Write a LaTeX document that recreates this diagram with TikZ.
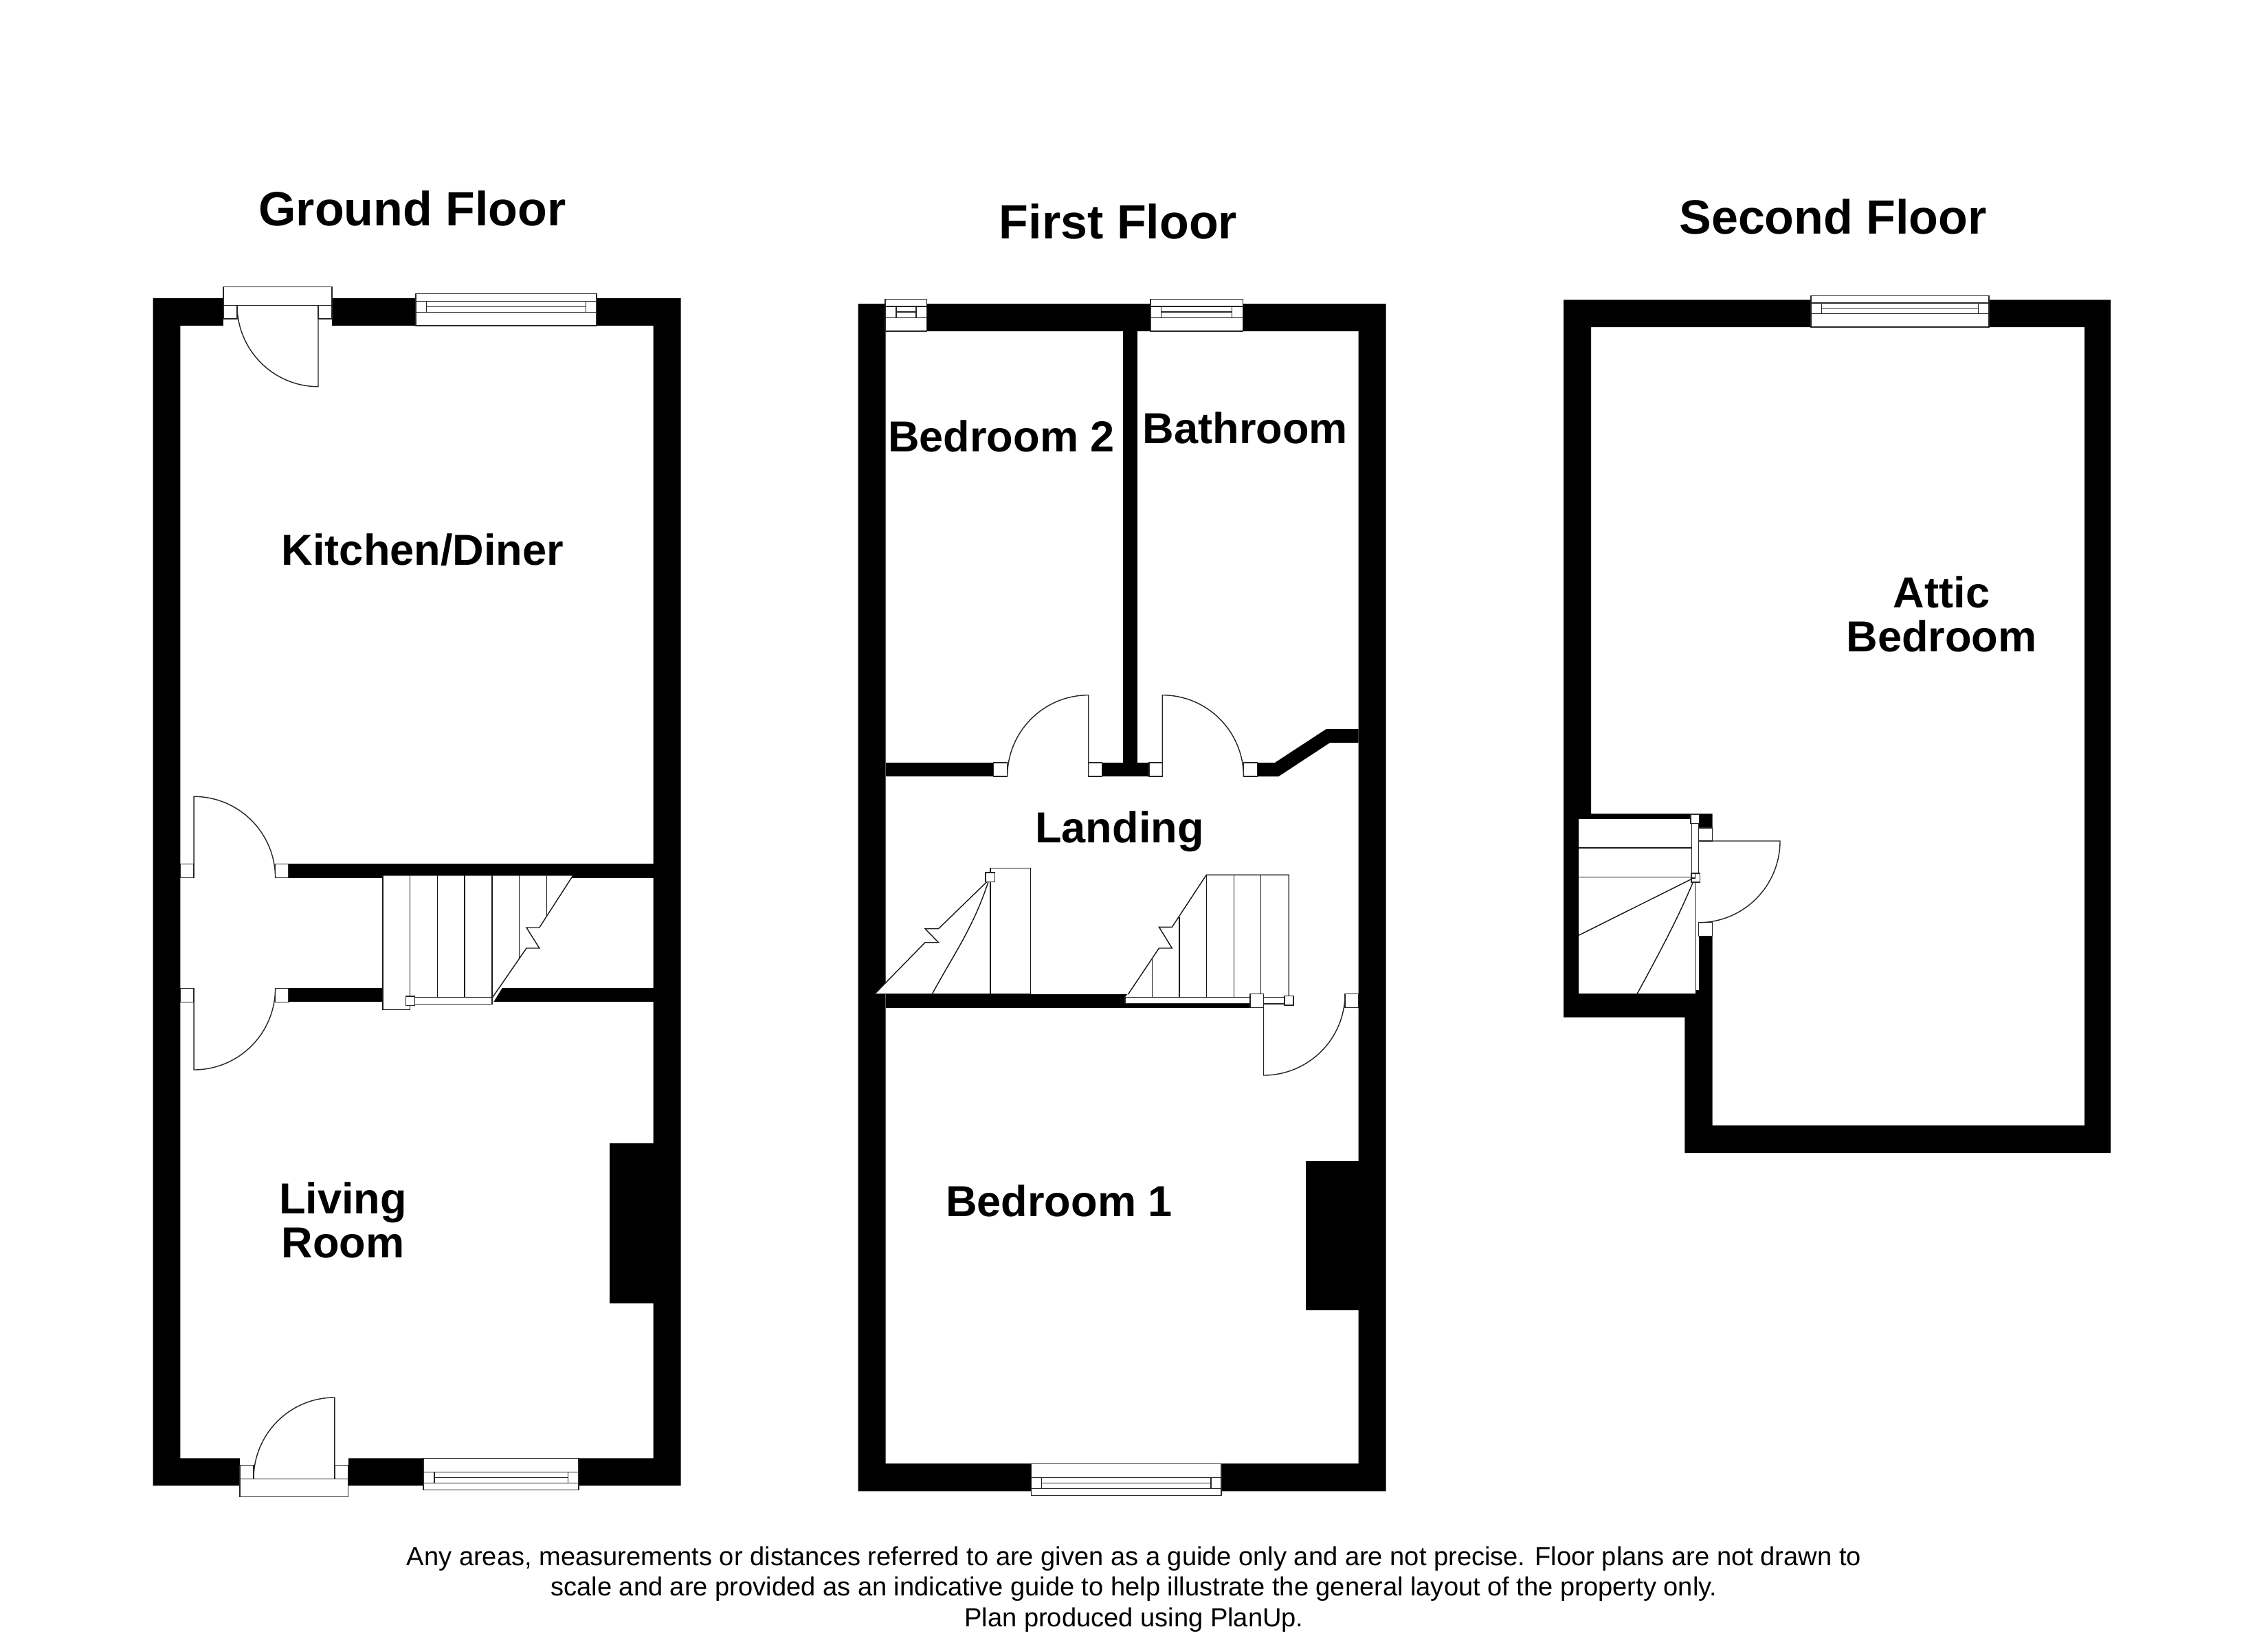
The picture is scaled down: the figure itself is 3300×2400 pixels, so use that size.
\documentclass[tikz,border=0pt]{standalone}
\usepackage{fontspec}
\setmainfont{Liberation Sans}
\tikzset{
  wall/.style={fill=black,draw=none},
  thin line/.style={draw=black!85,line width=0.34pt,fill=white},
  leaf/.style={draw=black!85,line width=0.34pt},
  tread/.style={draw=black!90,line width=0.34pt},
  floortitle/.style={font=\fontsize{16.8}{19}\selectfont\bfseries,inner sep=0pt,text=black},
  roomlabel/.style={font=\fontsize{15.15}{15.2}\selectfont\bfseries,inner sep=0pt,align=center,text=black},
  footnote/.style={font=\fontsize{9.14}{10.6}\selectfont,inner sep=0pt,align=center,text=black}
}
\begin{document}
\begin{tikzpicture}[x=0.24pt,y=-0.24pt]
\useasboundingbox (0,0) rectangle (3300,2400);
\fill[white] (0,0) rectangle (3300,2400);

%%% GROUND FLOOR
\fill[wall,even odd rule] (222.5,434) rectangle (990.5,2162.3) (262.3,474) rectangle (950.5,2122.3);
\fill[wall] (420,1257.3) rectangle (950.5,1277.7);
\fill[wall] (420,1438.3) rectangle (950.5,1458.3);
\fill[wall] (887.3,1663.7) rectangle (950.5,1897.3);
% back door
\fill[white] (325,430) rectangle (483,475);
\draw[thin line] (325,417.3) rectangle (483,444.3);
\draw[thin line] (325,444.3) rectangle (345,464);
\draw[thin line] (463,444.3) rectangle (483,464);
\draw[leaf] (463,444.3) -- (463,562.7) .. controls (397.8,562.7) and (345,509.5) .. (345,444.3);
% back window
\draw[thin line] (605,427.7) rectangle (868,474);
\draw[leaf] (605,438.3) -- (868,438.3) (605,454.3) -- (868,454.3);
\draw[leaf] (620.4,438.3) rectangle (852.6,454.3) (620.4,446.3) -- (852.6,446.3);
% front door
\fill[white] (349,2121) rectangle (506.7,2163);
\draw[thin line] (349,2152.3) rectangle (506.7,2178.7);
\draw[thin line] (349,2132.7) rectangle (369,2152.3);
\draw[thin line] (486.8,2132.7) rectangle (506.7,2152.3);
\draw[leaf] (369,2152.3) .. controls (369,2087) and (421.8,2034) .. (486.8,2034) -- (486.8,2152.3);
% front window
\draw[thin line] (616,2122.3) rectangle (842,2168.3);
\draw[leaf] (616,2142.3) -- (842,2142.3) (616,2158.3) -- (842,2158.3);
\draw[leaf] (631.8,2142.3) rectangle (826.6,2158.3) (631.8,2150.3) -- (826.6,2150.3);
% hall doors
\draw[thin line] (262.3,1257.3) rectangle (282.2,1277.7);
\draw[thin line] (400.6,1257.3) rectangle (420,1277.7);
\draw[thin line] (262.3,1438.3) rectangle (282.2,1458.3);
\draw[thin line] (400.6,1438.3) rectangle (420,1458.3);
\draw[leaf] (282.2,1277.7) -- (282.2,1159.3) .. controls (347.6,1159.3) and (400.6,1212.3) .. (400.6,1277.7);
\draw[leaf] (282.2,1438.3) -- (282.2,1557) .. controls (347.6,1557) and (400.6,1503.9) .. (400.6,1438.3);
% ground stairs
\path[fill=white] (557.2,1274) -- (833.8,1274) -- (795.5,1334) -- (784.8,1350) -- (766,1350) -- (784.8,1380) -- (766,1380) -- (716,1461.7) -- (596.5,1461.7) -- (596.5,1469.7) -- (557.2,1469.7) -- cycle;
\draw[tread] (557.2,1274) -- (833.8,1274) -- (784.8,1350) -- (766,1350) -- (784.8,1380) -- (766,1380) -- (716,1452.5);
\draw[tread] (557.2,1274) -- (557.2,1469.7) -- (596.5,1469.7) -- (596.5,1274);
\draw[tread] (636.3,1274) -- (636.3,1451.7) (676,1274) -- (676,1451.7) (716,1274) -- (716,1461.7) (755.7,1274) -- (755.7,1395.7) (795.5,1274) -- (795.5,1334);
\draw[thin line] (596.5,1451.7) rectangle (716,1461.7);
\draw[thin line] (590.4,1450) rectangle (603.7,1463.3);

%%% FIRST FLOOR
\fill[wall,even odd rule] (1248.5,442) rectangle (2016.7,2170.3) (1288.5,482) rectangle (1976.7,2130);
\fill[wall] (1633.9,482) rectangle (1654.7,1110);
\fill[wall] (1288.5,1110) rectangle (1446,1130);
\fill[wall] (1603.3,1110) rectangle (1672,1130);
\fill[wall] (1829.4,1110) -- (1855,1110) -- (1929.8,1061) -- (1976.7,1061) -- (1976.7,1081) -- (1935,1081) -- (1860.4,1130) -- (1829.4,1130) -- cycle;
\fill[wall] (1288.5,1446.7) rectangle (1819,1466.5);
\fill[wall] (1900.3,1690.3) rectangle (1976.7,1907);
% windows
\draw[thin line] (1288,435.7) rectangle (1348.3,482);
\draw[leaf] (1288,446) -- (1348.3,446) (1288,462.3) -- (1348.3,462.3);
\draw[leaf] (1304,446) rectangle (1333,462.3) (1304,454) -- (1333,454);
\draw[thin line] (1674,435.7) rectangle (1808.3,482);
\draw[leaf] (1674,446) -- (1808.3,446) (1674,462.3) -- (1808.3,462.3);
\draw[leaf] (1689.7,446) rectangle (1792.6,462.3) (1689.7,454) -- (1792.6,454);
\draw[thin line] (1500.3,2130.5) rectangle (1777,2176.7);
\draw[leaf] (1500.3,2150.3) -- (1777,2150.3) (1500.3,2166.3) -- (1777,2166.3);
\draw[leaf] (1515.7,2150.3) rectangle (1762,2166.3) (1515.7,2158.3) -- (1762,2158.3);
% landing doors
\draw[thin line] (1445.7,1110) rectangle (1465.7,1130);
\draw[thin line] (1583.7,1110) rectangle (1603.3,1130);
\draw[thin line] (1672,1110) rectangle (1691.4,1130);
\draw[thin line] (1809.4,1110) rectangle (1829.4,1130);
\draw[leaf] (1465.7,1130) .. controls (1465.7,1064.7) and (1518.5,1011.7) .. (1583.7,1011.7) -- (1583.7,1130);
\draw[leaf] (1809.4,1130) .. controls (1809.4,1064.7) and (1756.6,1011.7) .. (1691.4,1011.7) -- (1691.4,1130);
% left stair
\path[fill=white] (1272.7,1446.7) -- (1346,1371.7) -- (1365.5,1371.7) -- (1346,1351.7) -- (1365.5,1351.7) -- (1434,1285) -- (1441,1285) -- (1441,1263.3) -- (1499.7,1263.3) -- (1499.7,1446.7) -- cycle;
\draw[tread] (1272.7,1446.7) -- (1346,1371.7) -- (1365.5,1371.7) -- (1346,1351.7) -- (1365.5,1351.7) -- (1436,1283.3);
\draw[tread] (1441,1263.3) -- (1499.7,1263.3) -- (1499.7,1446.7) -- (1272.7,1446.7);
\draw[tread] (1441,1263.3) -- (1441,1446.7);
\draw[tread] (1438,1283.3) .. controls (1416,1350) and (1390,1385) .. (1356.3,1446.7);
\draw[thin line] (1434,1270) rectangle (1447.7,1283.3);
% right stair
\path[fill=white] (1637,1460.7) -- (1637,1451.3) -- (1641.5,1446) -- (1686.4,1380) -- (1705.3,1380) -- (1686.4,1349.3) -- (1705.3,1349.3) -- (1755.3,1273.3) -- (1875.2,1273.3) -- (1875.2,1460.7) -- cycle;
\draw[tread] (1641.5,1447) -- (1686.4,1380) -- (1705.3,1380) -- (1686.4,1349.3) -- (1705.3,1349.3) -- (1755.3,1273.3) -- (1875.2,1273.3) -- (1875.2,1450);
\draw[tread] (1676.2,1395) -- (1676.2,1451.3) (1716,1335) -- (1716,1451.3) (1755.3,1273.3) -- (1755.3,1451.3) (1795.6,1273.3) -- (1795.6,1451.3) (1834.4,1273.3) -- (1834.4,1451.3);
\draw[thin line] (1637,1451.3) rectangle (1819,1460.7);
\draw[thin line] (1838.5,1451.7) rectangle (1869,1461);
\draw[thin line] (1869,1449.7) rectangle (1882,1463);
\draw[thin line] (1819,1446.7) rectangle (1838.5,1466.5);
\draw[thin line] (1957,1446.7) rectangle (1976.7,1466.5);
\draw[leaf] (1838.5,1466.5) -- (1838.5,1565) .. controls (1904,1565) and (1957,1512) .. (1957,1446.7);

%%% SECOND FLOOR
\fill[wall,even odd rule] (2275,436.3) -- (3071,436.3) -- (3071,1678) -- (2451.3,1678) -- (2451.3,1480.7) -- (2275,1480.7) -- cycle
  (2315,476) -- (3033,476) -- (3033,1638) -- (2491.7,1638) -- (2491.7,1184.3) -- (2315,1184.3) -- cycle;
\fill[white] (2297,1192) rectangle (2466.7,1446);
\fill[white] (2466.7,1192) rectangle (2471.7,1441);
% window
\draw[thin line] (2635,430.3) rectangle (2894,476);
\draw[leaf] (2635,441) -- (2894,441) (2635,456.3) -- (2894,456.3);
\draw[leaf] (2650.3,441) rectangle (2878.3,456.3) (2650.3,448.7) -- (2878.3,448.7);
% door
\fill[white] (2471.7,1205) rectangle (2491.7,1362.3);
\draw[thin line] (2471.7,1205) rectangle (2491.7,1224);
\draw[thin line] (2471.7,1342.7) rectangle (2491.7,1362.3);
\draw[leaf] (2471.7,1224) -- (2590,1224) .. controls (2590,1289.5) and (2537,1342.7) .. (2471.7,1342.7);
% stairs
\draw[tread] (2297,1234) -- (2461.7,1234) (2297,1276.7) -- (2461.7,1276.7);
\draw[tread] (2460,1280) -- (2297,1361.3);
\draw[tread] (2463.3,1284) .. controls (2440,1340) and (2410,1395) .. (2382.3,1446);
\draw[tread] (2466.7,1284) -- (2466.7,1441);
\draw[thin line] (2461.7,1198.3) rectangle (2471.3,1271.7);
\draw[thin line] (2460,1185.7) rectangle (2472.7,1198.3);
\draw[thin line] (2461,1271) rectangle (2473.3,1284);
\draw[tread] (2466.7,1271) -- (2466.7,1278) -- (2461,1278);

%%% TEXT
\node[floortitle] (gft) at (600,303.5) {Ground Floor};
\node[floortitle] (fft) at (1627,322) {First Floor};
\node[floortitle] (sft) at (2667,315.5) {Second Floor};
\node[roomlabel] (kd) at (615,800) {Kitchen/Diner};
\node[roomlabel] (lr) at (499,1776) {Living\\Room};
\node[roomlabel] (b2) at (1457,635) {Bedroom 2};
\node[roomlabel] (ba) at (1812,623) {Bathroom};
\node[roomlabel] (la) at (1629,1210) {Landing};
\node[roomlabel] (b1) at (1541,1748) {Bedroom 1};
\node[roomlabel] (ab) at (2825,894) {Attic\\Bedroom};
\node[footnote] (fn) at (1650,2313) {Any areas, measurements or distances referred to are given as a guide only and are not precise. Floor plans are not drawn to\\scale and are provided as an indicative guide to help illustrate the general layout of the property only.\\Plan produced using PlanUp.};
\end{tikzpicture}
\end{document}
